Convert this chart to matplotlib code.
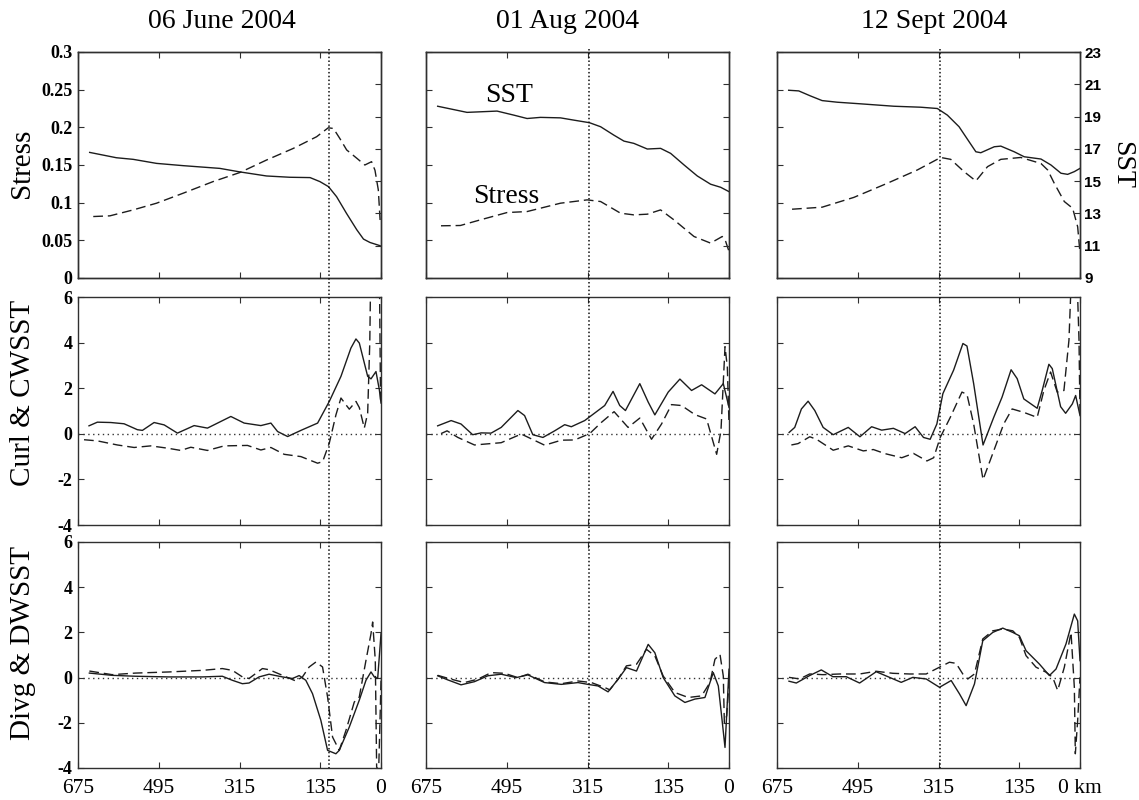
import matplotlib
matplotlib.use('Agg')
import matplotlib.pyplot as plt
import numpy as np
from matplotlib.lines import Line2D
from matplotlib import transforms

plt.rcParams['font.family'] = 'Liberation Serif'

# ---- data: [distance km, value] ----
dates = ['06 June 2004', '01 Aug 2004', '12 Sept 2004']
front_km = [116, 311, 311]
x_ticks = [675, 495, 315, 135, 0]
x_labels = [['675', '495', '315', '135', '0'],
            ['675', '495', '315', '135', '0'],
            ['675', '495', '315', '135', '0 km']]

# row 1: SST (solid, right axis) and wind stress (dashed, left axis)
sst_jun = np.array([[649, 16.78], [589.5, 16.45], [552, 16.35], [500, 16.10], [441, 15.96], [359, 15.79],
                    [314, 15.57], [255, 15.32], [203, 15.24], [158, 15.22], [136, 14.97], [117, 14.66],
                    [99, 14.04], [77, 13.01], [54, 11.99], [39, 11.41], [24.5, 11.20], [2, 11.0]])
stress_jun = np.array([[641, 0.0816], [604, 0.0825], [552, 0.0904], [500, 0.0993], [441, 0.1125], [374, 0.128],
                       [314.5, 0.140], [255, 0.1566], [195.5, 0.172], [143.5, 0.1875], [117.5, 0.1994],
                       [106, 0.1985], [91.5, 0.185], [76.5, 0.170], [54, 0.159], [36, 0.150], [21, 0.1544],
                       [13.4, 0.143], [6, 0.117], [2, 0.077]])
sst_aug = np.array([[649, 19.64], [583.6, 19.26], [516.7, 19.34], [479.5, 19.09], [449.8, 18.88], [420, 18.95],
                    [375.4, 18.92], [345.7, 18.78], [310.8, 18.62], [286, 18.37], [256.5, 17.85], [234, 17.48],
                    [212, 17.34], [182, 16.99], [152.4, 17.03], [130, 16.72], [100, 16.00], [70.6, 15.32],
                    [41, 14.81], [18.6, 14.62], [0, 14.35]])
stress_aug = np.array([[641.6, 0.0693], [598.4, 0.0697], [553.8, 0.0772], [494.4, 0.0869], [449.8, 0.0882],
                       [375.4, 0.0993], [316, 0.1037], [286, 0.1015], [241.6, 0.086], [212, 0.0838],
                       [182, 0.0847], [152.4, 0.0904], [122.7, 0.0772], [78, 0.0551], [41, 0.0463],
                       [15, 0.0551], [7.4, 0.0485], [0, 0.0353]])
sst_sep = np.array([[649, 20.63], [626.6, 20.59], [600.6, 20.28], [574.5, 19.99], [541, 19.89], [489, 19.79],
                    [414.5, 19.64], [355, 19.58], [317.8, 19.50], [295.5, 19.09], [269.4, 18.37], [247, 17.44],
                    [232, 16.82], [221, 16.76], [191, 17.13], [176.4, 17.17], [146.6, 16.82], [124.3, 16.51],
                    [87, 16.37], [64.7, 16.00], [42.4, 15.49], [27.5, 15.42], [12.6, 15.59], [0, 15.79]])
stress_sep = np.array([[641.5, 0.0913], [574.5, 0.094], [503.8, 0.107], [429.4, 0.1257], [362.4, 0.1434],
                       [310.3, 0.160], [288, 0.1575], [258, 0.141], [232, 0.1288], [206, 0.1478],
                       [176.4, 0.1575], [132, 0.160], [87, 0.152], [72, 0.1434], [57.3, 0.1257],
                       [35, 0.1015], [16.4, 0.0926], [5.2, 0.068], [0, 0.033]])

# row 2: curl (solid) and CWSST (dashed)
curl_jun = np.array([[650.5, 0.35], [631.9, 0.51], [602, 0.495], [572.4, 0.44], [542.7, 0.18], [531.5, 0.15],
                     [505.5, 0.495], [483, 0.39], [453.5, 0.03], [416.3, 0.36], [386.6, 0.25], [334.5, 0.76],
                     [304.8, 0.47], [267.6, 0.36], [245.3, 0.47], [230.4, 0.10], [208, -0.12], [178.4, 0.15],
                     [141.2, 0.47], [115.2, 1.42], [89.2, 2.52], [67, 3.76], [55.8, 4.16], [48.3, 3.98],
                     [29.7, 2.52], [22.3, 2.41], [11.2, 2.73], [3.7, 1.93], [0, 1.35]])
cwsst_jun = np.array([[661.6, -0.26], [631.9, -0.31], [587.3, -0.49], [550, -0.60], [513, -0.53], [475.8, -0.63],
                      [446, -0.73], [423.7, -0.59], [386.6, -0.73], [349.4, -0.53], [297.4, -0.51],
                      [267.6, -0.71], [245.3, -0.60], [215.6, -0.90], [178.4, -1.00], [141.2, -1.29],
                      [130, -1.22], [115.2, -0.41], [100.4, 0.83], [89.2, 1.57], [78, 1.27], [70.6, 1.08],
                      [55.8, 1.42], [48.3, 1.15], [37.2, 0.25], [29.7, 0.90], [25, 4.0], [22.3, 8.0],
                      [10, 10.0], [4, 8.0], [1, 1.5]])
curl_aug = np.array([[649, 0.35], [619, 0.58], [597, 0.43], [571, -0.04], [552, 0.04], [530, 0.03], [507.5, 0.28],
                     [470.3, 1.02], [455.4, 0.80], [437, -0.04], [414.5, -0.16], [388.4, 0.13], [366, 0.40],
                     [351.3, 0.31], [321.5, 0.58], [299.2, 0.91], [276.9, 1.24], [258.3, 1.86], [243.4, 1.24],
                     [230.7, 1.02], [198.7, 2.20], [180, 1.39], [165.2, 0.83], [135.4, 1.83], [109.4, 2.40],
                     [83.4, 1.90], [61, 2.15], [31.3, 1.75], [12.7, 2.20], [0, 1.16]])
cwsst_aug = np.array([[641.5, 0.01], [628, 0.13], [604, -0.16], [567, -0.49], [507.5, -0.39], [462.8, -0.01],
                      [410.7, -0.50], [373.5, -0.28], [343.8, -0.27], [310.3, 0.01], [284.3, 0.50],
                      [256, 0.97], [224.8, 0.28], [198.7, 0.69], [172.6, -0.24], [150.3, 0.43], [128, 1.28],
                      [105.7, 1.24], [75.9, 0.84], [49.9, 0.65], [27.5, -0.90], [17.9, 0.13], [8.9, 3.82],
                      [3.7, 2.93], [0, 0.43]])
curl_sep = np.array([[648, 0.06], [635.5, 0.28], [620.6, 1.09], [605.7, 1.43], [590.8, 1.02], [572.2, 0.28],
                     [549.8, -0.04], [516.3, 0.28], [490.2, -0.13], [464.2, 0.31], [441.8, 0.16], [415.7, 0.24],
                     [389.6, 0.01], [367.3, 0.31], [348.7, -0.16], [333.8, -0.24], [318.9, 0.43],
                     [305.5, 1.76], [281.6, 2.79], [260.8, 3.96], [251.8, 3.85], [236.9, 2.20], [216, -0.49],
                     [192.2, 0.72], [173.6, 1.61], [153.5, 2.81], [140, 2.42], [125.2, 1.53], [95.4, 1.12],
                     [84.2, 1.90], [69.3, 3.05], [61.8, 2.86], [43.2, 1.19], [32, 0.90], [17.1, 1.31],
                     [9.7, 1.68], [0, 0.80]])
cwsst_sep = np.array([[643, -0.49], [628, -0.43], [602, -0.13], [587, -0.24], [549.8, -0.72], [516.3, -0.53],
                      [482.8, -0.75], [460.4, -0.69], [434.3, -0.87], [397, -1.05], [371, -0.86],
                      [341, -1.19], [326, -1.05], [311.4, -0.16], [289, 0.72], [263, 1.83], [251.8, 1.73],
                      [236.9, 0.43], [216, -2.01], [192.2, -0.75], [170, 0.43], [151.2, 1.09], [125.2, 0.94],
                      [95.4, 0.72], [80.5, 1.90], [65.6, 2.71], [50.7, 1.83], [35.8, 1.90], [24.6, 4.11],
                      [20.9, 6.03], [13.4, 7.0], [6, 6.5], [2.2, 4.1], [0, 0.87]])

# row 3: divergence (solid) and DWSST (dashed)
divg_jun = np.array([[649.7, 0.20], [599, 0.10], [547, 0.06], [472.6, 0.03], [398, 0.03], [353.5, 0.06],
                     [331, -0.12], [308.8, -0.27], [294, -0.24], [271.6, 0.03], [249.3, 0.15], [219.5, 0.03],
                     [197.2, -0.04], [182.3, 0.09], [167.5, -0.12], [152.6, -0.71], [134, -1.89],
                     [119, -3.22], [100.5, -3.37], [93, -3.22], [70.7, -2.19], [48.4, -1.0], [33.5, -0.12],
                     [22.3, 0.25], [14.9, 0.03], [7.4, -0.04], [0, 1.94]])
dwsst_jun = np.array([[649.7, 0.29], [599, 0.13], [547, 0.20], [472.6, 0.25], [398, 0.32], [353.5, 0.40],
                      [331, 0.32], [308.8, 0.03], [294, -0.04], [264.2, 0.40], [249.3, 0.35], [219.5, 0.10],
                      [189.8, -0.15], [175, 0.03], [160, 0.47], [145, 0.69], [130.2, 0.47], [119, -0.86],
                      [107.9, -2.63], [93, -3.22], [78.1, -2.34], [59.5, -1.08], [48.4, -0.86], [33.5, 0.76],
                      [22.3, 1.94], [18.6, 2.46], [12.7, 0.76], [9.7, -3.96], [5.2, -4.1], [2.2, -1.89],
                      [0, -0.12]])
divg_aug = np.array([[649, 0.08], [626.6, -0.10], [596.9, -0.32], [567, -0.18], [537.3, 0.08], [507.5, 0.15],
                     [474, 0.00], [448, 0.12], [410.8, -0.22], [373.6, -0.30], [336.4, -0.22], [314, -0.30],
                     [291.7, -0.37], [269.4, -0.63], [247, -0.07], [228.5, 0.44], [206.1, 0.29], [180, 1.47],
                     [165.2, 1.10], [146.6, 0.00], [120.6, -0.81], [98.2, -1.10], [75.9, -0.95], [53.6, -0.88],
                     [35, 0.22], [23.8, -0.37], [14.9, -1.98], [8.9, -3.09], [3, -0.81], [0, 0.37]])
dwsst_aug = np.array([[649, 0.10], [619.2, -0.07], [589.4, -0.22], [559.6, -0.07], [529.9, 0.22], [500.1, 0.19],
                      [470.3, 0.0], [448, 0.15], [410.8, -0.19], [373.6, -0.27], [336.4, -0.15],
                      [306.6, -0.22], [276.8, -0.44], [265.6, -0.54], [247, -0.07], [228.5, 0.52],
                      [206.1, 0.59], [183.8, 1.25], [165.2, 0.96], [146.6, 0.07], [120.6, -0.66],
                      [90.8, -0.88], [61, -0.81], [42.4, -0.22], [31.3, 0.81], [20.1, 1.03], [12.7, 0.07],
                      [10.4, -1.98], [5.2, -1.69], [0, -0.22]])
divg_sep = np.array([[648.3, -0.16], [632, -0.24], [602.3, 0.09], [576.3, 0.34], [550.4, 0.04], [520.7, 0.04],
                     [491, -0.24], [454, 0.26], [424.3, 0.01], [398.3, -0.21], [372.4, 0.01], [342.7, -0.06],
                     [313, -0.43], [287, -0.13], [268.5, -0.72], [253.7, -1.24], [235.1, -0.28],
                     [216.6, 1.63], [194.3, 2.0], [172.1, 2.19], [149.8, 2.0], [135, 1.85], [120.2, 1.19],
                     [90.5, 0.60], [68.2, 0.09], [53.4, 0.38], [31.2, 1.49], [12.6, 2.81], [5.2, 2.51],
                     [0, 0.75]])
dwsst_sep = np.array([[648.3, 0.01], [624.5, -0.06], [602.3, 0.16], [572.6, 0.13], [535.5, 0.16], [491, 0.16],
                      [454, 0.28], [416.9, 0.19], [379.8, 0.16], [342.7, 0.16], [313, 0.46], [290.8, 0.68],
                      [276, 0.63], [261.1, 0.16], [250, -0.06], [235.1, 0.16], [216.6, 1.71], [194.3, 2.07],
                      [172.1, 2.15], [149.8, 2.07], [135, 1.78], [120.2, 0.97], [97.9, 0.46], [75.7, 0.24],
                      [60.8, 0.01], [49.7, -0.57], [34.9, 0.46], [20, 2.0], [12.6, -0.43], [10.4, -3.37],
                      [5.2, -1.90], [0, 0.01]])

sst_all = [sst_jun, sst_aug, sst_sep]
stress_all = [stress_jun, stress_aug, stress_sep]
curl_all = [curl_jun, curl_aug, curl_sep]
cwsst_all = [cwsst_jun, cwsst_aug, cwsst_sep]
divg_all = [divg_jun, divg_aug, divg_sep]
dwsst_all = [dwsst_jun, dwsst_aug, dwsst_sep]

stress_ticks = [0, 0.05, 0.1, 0.15, 0.2, 0.25, 0.3]
stress_labels = ['0', '0.05', '0.1', '0.15', '0.2', '0.25', '0.3']
sst_ticks = [9, 11, 13, 15, 17, 19, 21, 23]
anom_ticks = [-4, -2, 0, 2, 4, 6]

# ---- layout (pixel boxes) ----
W, H = 1139, 800
fig = plt.figure(figsize=(W / 100, H / 100), dpi=100)
lefts = [78, 426, 777]
ax_w = 303
rows = [(52, 278), (297, 525), (542, 768)]


def box(l, t, b):
    return [l / W, 1 - b / H, ax_w / W, (b - t) / H]


line_col = '#1c1c1c'
dash = (0, (7, 3.5))

for c in range(3):
    axes = []
    for r in range(3):
        ax = fig.add_axes(box(lefts[c], rows[r][0], rows[r][1]))
        ax.set_xlim(675, 0)
        for s in ax.spines.values():
            s.set_linewidth(1.0)
            s.set_color('#303030')
        ax.tick_params(direction='in', length=4, width=0.8, top=True, right=(r > 0),
                       color='#303030', pad=4)
        if r == 2:
            ax.set_xticks(x_ticks, x_labels[c], fontsize=15.5)
            ax.tick_params(axis='x', pad=8)
        else:
            ax.set_xticks(x_ticks)
            ax.tick_params(labelbottom=False)
        axes.append(ax)

    # row 1
    ax = axes[0]
    ax.set_ylim(0, 0.3)
    ax.set_yticks(stress_ticks, stress_labels, fontsize=13, fontweight='bold')
    ax.plot(stress_all[c][:, 0], stress_all[c][:, 1], color=line_col, lw=1.0, linestyle=dash)
    axt = ax.twinx()
    axt.set_ylim(9, 23)
    axt.set_yticks(sst_ticks, [str(t) for t in sst_ticks], fontsize=11, fontweight='bold',
                   family='Liberation Sans')
    axt.tick_params(direction='in', length=4, width=0.8, color='#303030', pad=3)
    axt.plot(sst_all[c][:, 0], sst_all[c][:, 1], color=line_col, lw=1.0)
    for s in axt.spines.values():
        s.set_linewidth(1.0)
        s.set_color('#303030')
    if c != 2:
        axt.tick_params(labelright=False)
    if c == 1:
        ax.text(491, 0.2416, 'SST', fontsize=20, ha='center', va='center')
        ax.text(496, 0.1088, 'Stress', fontsize=20, ha='center', va='center')

    # rows 2 and 3
    for r, (solid, dashed) in zip([1, 2], [(curl_all[c], cwsst_all[c]), (divg_all[c], dwsst_all[c])]):
        ax = axes[r]
        ax.set_ylim(-4, 6)
        ax.set_yticks(anom_ticks, [str(t) for t in anom_ticks], fontsize=13, fontweight='bold')
        ax.axhline(0, color='#333333', lw=1.0, linestyle=(0, (1, 2.5)))
        ax.plot(solid[:, 0], solid[:, 1], color=line_col, lw=1.0)
        ax.plot(dashed[:, 0], dashed[:, 1], color=line_col, lw=1.0, linestyle=dash)

    if c != 0:
        for ax in axes:
            ax.tick_params(labelleft=False)

    # front position: dotted line running through all three rows
    tr = transforms.blended_transform_factory(axes[0].transData, fig.transFigure)
    fig.add_artist(Line2D([front_km[c], front_km[c]], [1 - 49 / H, 1 - 768 / H], transform=tr,
                          color='#111111', lw=1.1, linestyle=(0, (1, 1.5))))

# titles and labels
title_x = [222, 567, 934]
for c in range(3):
    fig.text(title_x[c] / W, 1 - 22 / H, dates[c], fontsize=20, ha='center', va='center')

fig.text(22 / W, 1 - 163 / H, 'Stress', fontsize=21, rotation=90, ha='center', va='center')
fig.text(23 / W, 1 - 393 / H, 'Curl & CWSST', fontsize=21, rotation=90, ha='center', va='center')
fig.text(23 / W, 1 - 643 / H, 'Divg & DWSST', fontsize=21, rotation=90, ha='center', va='center')
fig.text(1122 / W, 1 - 165 / H, 'SST', fontsize=20, rotation=270, ha='center', va='center')

fig.savefig('out.png', dpi=100)
